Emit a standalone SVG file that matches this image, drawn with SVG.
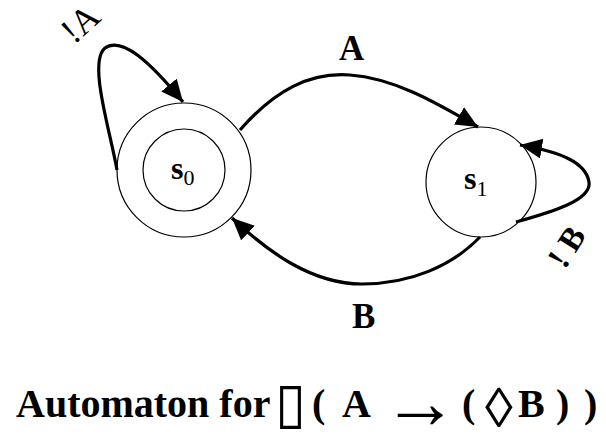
<svg xmlns="http://www.w3.org/2000/svg" width="606" height="435" viewBox="0 0 606 435">
<style>
.st{fill:#fff;stroke:#000;stroke-width:1.2}
.e{fill:none;stroke:#000;stroke-width:3.2;marker-end:url(#ah)}
text{font-family:"Liberation Serif","DejaVu Serif",serif;fill:#000}
.lb{font-weight:bold}
.sub{font-weight:normal}
.ti{font-weight:bold;font-size:40px}
</style>
<defs>
<marker id="ah" markerUnits="userSpaceOnUse" markerWidth="24" markerHeight="22" refX="22" refY="10" orient="auto">
<path d="M0,0 L22,10 L0,20 Z" fill="#000"/>
</marker>
</defs>
<rect width="606" height="435" fill="#fff"/>
<g id="s0">
<circle class="st" cx="184" cy="170" r="67"/>
<circle class="st" cx="184" cy="170" r="41"/>
<text x="171" y="179" class="lb" font-size="32">s<tspan class="sub" font-size="22" dy="6">0</tspan></text>
</g>
<g id="s1">
<circle class="st" cx="481" cy="182" r="55"/>
<text x="464" y="189" class="lb" font-size="32">s<tspan class="sub" font-size="22" dy="7">1</tspan></text>
</g>
<g id="edges">
<path class="e" d="M117,170 C110,130 88,62 105,48 C122,36 150,62 183,102"/>
<path class="e" d="M240,130 C275,90 310,72 350,75 C392,78 432,100 478,127"/>
<path class="e" d="M480,237 C452,266 410,284 362,284 C312,284 268,252 232,218"/>
<path class="e" d="M516,222 C552,212 592,200 589,182 C586,163 562,152 520,145"/>
<text class="sub" font-size="36" transform="translate(74,45) rotate(-42)">!A</text>
<text class="lb" font-size="35" x="339" y="60">A</text>
<text class="lb" font-size="35" x="352" y="328">B</text>
<text class="lb" font-size="33" transform="translate(565,270) rotate(-58)">! B</text>
</g>
<g id="title">
<text class="ti" x="16" y="417">Automaton for</text>
<text x="275" y="422" font-size="56" font-weight="normal" style="font-family:'DejaVu Sans',sans-serif">▯</text>
<text class="ti" x="312" y="417">(</text>
<text class="ti" x="342" y="417">A</text>
<text x="382" y="428" font-size="76" font-weight="normal">→</text>
<text class="ti" x="462" y="417">(</text>
<text x="485" y="427" font-size="56" font-weight="normal">◊</text>
<text class="ti" x="518" y="417">B</text>
<text class="ti" x="556" y="417">)</text>
<text class="ti" x="584" y="417">)</text>
</g>
</svg>
